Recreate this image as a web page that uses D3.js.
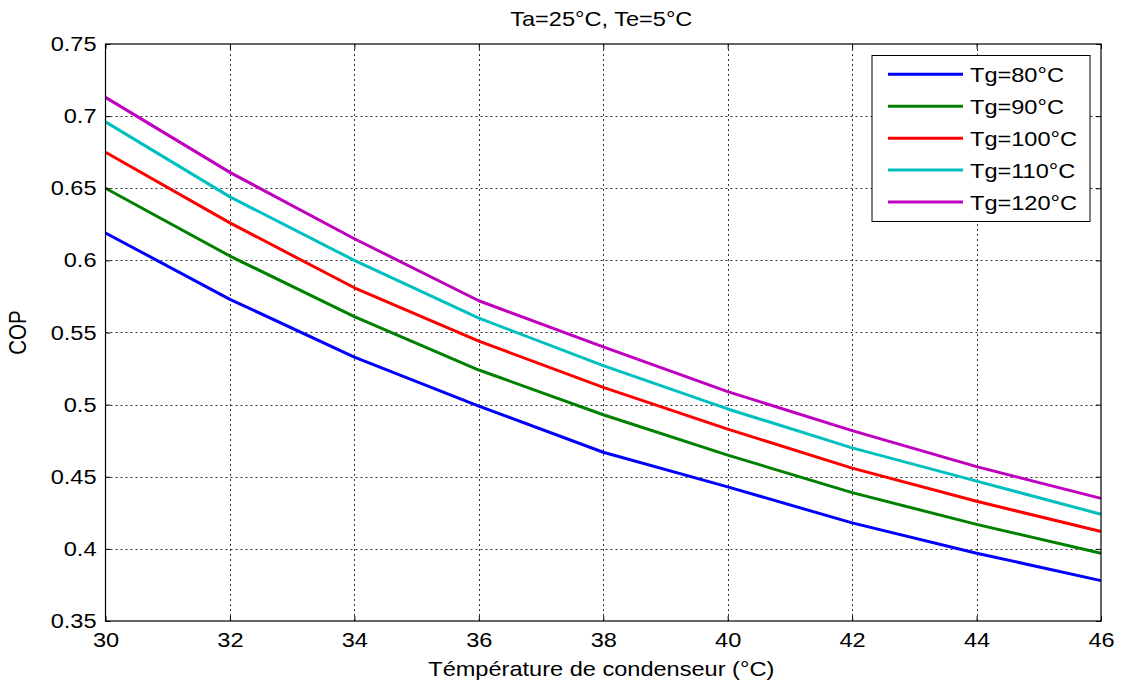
<!DOCTYPE html>
<html>
<head>
<meta charset="utf-8">
<script src="https://cdn.jsdelivr.net/npm/d3@7"></script>
<style>
  html, body { margin: 0; padding: 0; background: #fff; }
  svg { display: block; }
  text { font-family: "Liberation Sans", Arial, Helvetica, sans-serif; fill: #000; }
</style>
</head>
<body>
<svg id="chart" width="1123" height="684"></svg>
<script>
// ---- Data ----
const xValues = [30, 32, 34, 36, 38, 40, 42, 44, 46];
const tg80  = [0.619, 0.573, 0.533, 0.499, 0.467, 0.443, 0.418, 0.397, 0.378];
const tg90  = [0.650, 0.603, 0.561, 0.524, 0.493, 0.465, 0.439, 0.417, 0.397];
const tg100 = [0.675, 0.626, 0.581, 0.544, 0.512, 0.483, 0.456, 0.433, 0.412];
const tg110 = [0.696, 0.644, 0.600, 0.560, 0.527, 0.497, 0.470, 0.447, 0.424];
const tg120 = [0.713, 0.661, 0.615, 0.572, 0.540, 0.509, 0.482, 0.457, 0.435];
const seriesNames = ["Tg=80°C", "Tg=90°C", "Tg=100°C", "Tg=110°C", "Tg=120°C"];
const seriesValues = [tg80, tg90, tg100, tg110, tg120];
const seriesColors = ["#0000ff", "#008000", "#ff0000", "#00bfbf", "#bf00bf"];
const xTicks = [30, 32, 34, 36, 38, 40, 42, 44, 46];
const yTicks = [0.35, 0.4, 0.45, 0.5, 0.55, 0.6, 0.65, 0.7, 0.75];
const titleText = "Ta=25°C, Te=5°C";
const xLabel = "Témpérature de condenseur (°C)";
const yLabel = "COP";

(function () {
// ---- Layout ----
const pL = 105.5, pR = 1101, pT = 44, pB = 621;
const FS = 20.5, SX = 1.15;

const svg = d3.select("#chart");
svg.append("rect").attr("width", 1123).attr("height", 684).attr("fill", "#fff");

const x = d3.scaleLinear().domain([30, 46]).range([pL, pR]);
const y = d3.scaleLinear().domain([0.35, 0.75]).range([pB, pT]);

// grid
const grid = svg.append("g").attr("stroke", "#333").attr("stroke-width", 1)
  .attr("stroke-dasharray", "2,3").attr("fill", "none");
xTicks.slice(1, -1).forEach(t => {
  grid.append("line").attr("x1", Math.round(x(t)) + 0.5).attr("x2", Math.round(x(t)) + 0.5)
    .attr("y1", pT).attr("y2", pB);
});
yTicks.slice(1, -1).forEach(t => {
  grid.append("line").attr("y1", Math.round(y(t)) + 0.5).attr("y2", Math.round(y(t)) + 0.5)
    .attr("x1", pL).attr("x2", pR);
});

// series
const line = d3.line().x((d, i) => x(xValues[i])).y(d => y(d));
seriesValues.forEach((vals, k) => {
  svg.append("path").datum(vals).attr("d", line)
    .attr("fill", "none").attr("stroke", seriesColors[k]).attr("stroke-width", 3)
    .attr("stroke-linejoin", "round");
});

// axes
function styleAxis(g) {
  g.select(".domain").remove();
  g.selectAll(".tick line").attr("stroke", "#000").attr("stroke-width", 1);
  g.selectAll(".tick text").attr("font-size", FS).attr("font-family", "Liberation Sans, Arial, sans-serif")
    .attr("fill", "#000");
}
const xAxis = svg.append("g").attr("transform", `translate(0,${pB})`)
  .call(d3.axisBottom(x).tickValues(xTicks).tickSize(-5).tickPadding(11).tickFormat(d3.format("d")));
styleAxis(xAxis);
xAxis.selectAll(".tick text").each(function () {
  const t = d3.select(this);
  const yy = +t.attr("y");
  t.attr("y", null).attr("transform", `translate(0,${yy}) scale(${SX},1)`);
});

const yAxis = svg.append("g").attr("transform", `translate(${pL},0)`)
  .call(d3.axisLeft(y).tickValues(yTicks).tickSize(-5).tickPadding(9).tickFormat(d => String(+d.toFixed(2))));
styleAxis(yAxis);
yAxis.selectAll(".tick text").each(function () {
  const t = d3.select(this);
  const xx = +t.attr("x");
  t.attr("x", null).attr("transform", `translate(${xx},0) scale(${SX},1)`);
});

const topAxis = svg.append("g").attr("transform", `translate(0,${pT})`)
  .call(d3.axisTop(x).tickValues(xTicks).tickSize(-5).tickFormat(""));
styleAxis(topAxis);
const rightAxis = svg.append("g").attr("transform", `translate(${pR},0)`)
  .call(d3.axisRight(y).tickValues(yTicks).tickSize(-5).tickFormat(""));
styleAxis(rightAxis);

// box
svg.append("rect").attr("x", pL).attr("y", pT).attr("width", pR - pL).attr("height", pB - pT)
  .attr("fill", "none").attr("stroke", "#000").attr("stroke-width", 1.2);

// title & labels
svg.append("text").attr("transform", `translate(${(pL + pR) / 2 - 2},26) scale(${SX},1)`)
  .attr("text-anchor", "middle").attr("font-size", FS).text(titleText);
svg.append("text").attr("transform", `translate(${(pL + pR) / 2 - 2},676) scale(${SX},1)`)
  .attr("text-anchor", "middle").attr("font-size", FS).text(xLabel);
svg.append("text").attr("transform", `translate(26,${(pT + pB) / 2}) rotate(-90) scale(1,${SX})`)
  .attr("text-anchor", "middle").attr("font-size", FS).text(yLabel);

// legend
const lg = svg.append("g");
lg.append("rect").attr("x", 872).attr("y", 55.5).attr("width", 218).attr("height", 166)
  .attr("fill", "#fff").attr("stroke", "#000").attr("stroke-width", 1);
const legY = d3.scalePoint().domain(seriesNames).range([74.3, 202]);
seriesNames.forEach((name, k) => {
  const yy = legY(name);
  lg.append("line").attr("x1", 888).attr("x2", 963).attr("y1", yy).attr("y2", yy)
    .attr("stroke", seriesColors[k]).attr("stroke-width", 3);
  lg.append("text").attr("transform", `translate(970,${yy + 7.5}) scale(${SX},1)`)
    .attr("font-size", FS).text(name);
});
})();
</script>
</body>
</html>
